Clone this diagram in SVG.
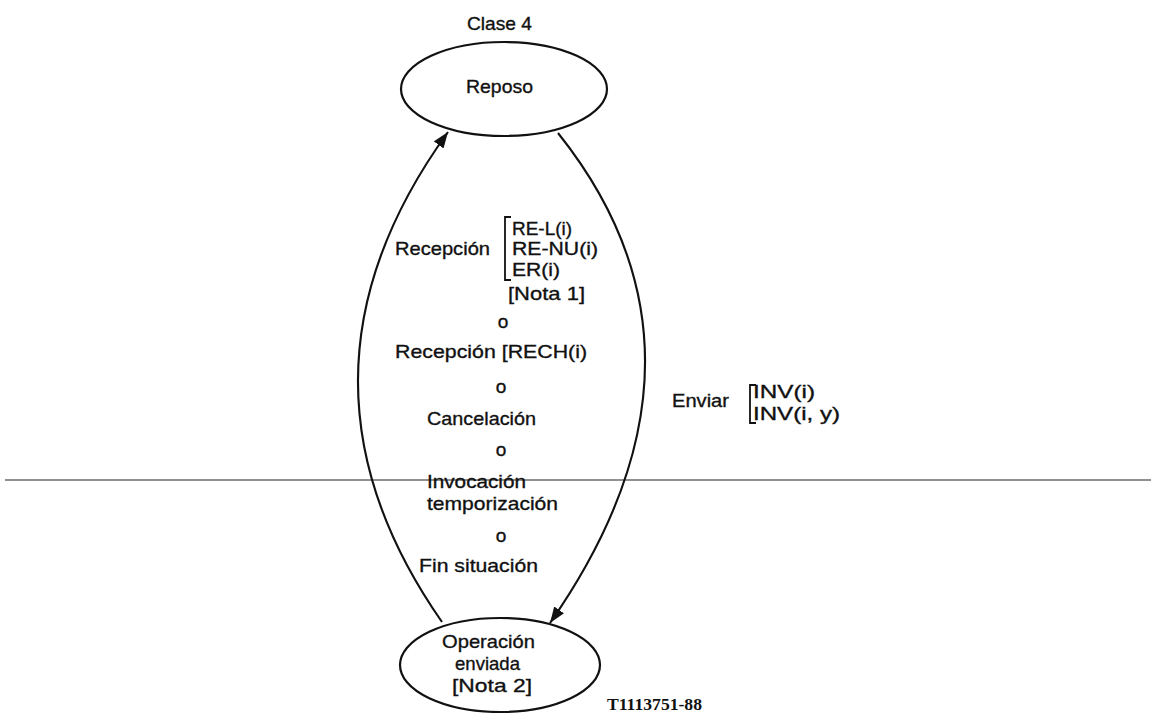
<svg xmlns="http://www.w3.org/2000/svg" width="1151" height="713" viewBox="0 0 1151 713">
<style>
.t{font-family:"Liberation Sans",Arial,sans-serif;font-size:19px;fill:#111;stroke:#111;stroke-width:0.35}
.c{text-anchor:middle}
.n{fill:none;stroke:#111;stroke-width:2.2}
.e{fill:none;stroke:#111;stroke-width:2.1}
.br{fill:none;stroke:#111;stroke-width:1.8}
</style>
<defs>
<marker id="ah" viewBox="0 0 16 12" refX="16" refY="6" markerWidth="16" markerHeight="12" markerUnits="userSpaceOnUse" orient="auto">
<path d="M0,0 L16,6 L0,12 z" fill="#111"/>
</marker>
</defs>
<rect width="1151" height="713" fill="#fff"/>
<line x1="5" y1="480" x2="1151" y2="480" stroke="#222" stroke-width="1.2"/>
<g id="connectors">
<path class="e" d="M442,622 Q271,377 448,132" marker-end="url(#ah)"/>
<path class="e" d="M558,133 Q736,356 550,623" marker-end="url(#ah)"/>
</g>
<g id="reposo">
<text class="t" x="467" y="30" textLength="65" lengthAdjust="spacingAndGlyphs">Clase 4</text>
<ellipse class="n" cx="504" cy="89" rx="103" ry="47"/>
<text class="t" x="466" y="93" textLength="67" lengthAdjust="spacingAndGlyphs">Reposo</text>
</g>
<g id="operacion">
<ellipse class="n" cx="500" cy="665" rx="100" ry="47"/>
<text class="t" x="442" y="648" textLength="93" lengthAdjust="spacingAndGlyphs">Operación</text>
<text class="t" x="455" y="670" textLength="65" lengthAdjust="spacingAndGlyphs">enviada</text>
<text class="t" x="452" y="692" textLength="80" lengthAdjust="spacingAndGlyphs">[Nota 2]</text>
</g>
<g id="label-left">
<text class="t" x="395" y="255" textLength="95" lengthAdjust="spacingAndGlyphs">Recepción</text>
<path class="br" d="M511,217 H505 V280 H511"/>
<text class="t" x="512" y="235" textLength="60" lengthAdjust="spacingAndGlyphs">RE-L(i)</text>
<text class="t" x="512" y="255" textLength="86" lengthAdjust="spacingAndGlyphs">RE-NU(i)</text>
<text class="t" x="512" y="276" textLength="48" lengthAdjust="spacingAndGlyphs">ER(i)</text>
<text class="t" x="508" y="300" textLength="77" lengthAdjust="spacingAndGlyphs">[Nota 1]</text>
<text class="t c" x="503" y="328">o</text>
<text class="t" x="395" y="358" textLength="192" lengthAdjust="spacingAndGlyphs">Recepción [RECH(i)</text>
<text class="t c" x="501" y="393">o</text>
<text class="t" x="427" y="425" textLength="109" lengthAdjust="spacingAndGlyphs">Cancelación</text>
<text class="t c" x="501" y="456">o</text>
<text class="t" x="427" y="488" textLength="99" lengthAdjust="spacingAndGlyphs">Invocación</text>
<text class="t" x="427" y="510" textLength="131" lengthAdjust="spacingAndGlyphs">temporización</text>
<text class="t c" x="501" y="542">o</text>
<text class="t" x="419" y="572" textLength="119" lengthAdjust="spacingAndGlyphs">Fin situación</text>
</g>
<g id="label-right">
<text class="t" x="672" y="407" textLength="57" lengthAdjust="spacingAndGlyphs">Enviar</text>
<path class="br" d="M756,385 H750 V423 H756"/>
<text class="t" x="753" y="398" textLength="62" lengthAdjust="spacingAndGlyphs">INV(i)</text>
<text class="t" x="753" y="420" textLength="87" lengthAdjust="spacingAndGlyphs">INV(i, y)</text>
</g>
<text x="607" y="710" font-family="'Liberation Serif','Times New Roman',serif" font-size="17" font-weight="bold" fill="#111" textLength="95" lengthAdjust="spacingAndGlyphs">T1113751-88</text>
</svg>
